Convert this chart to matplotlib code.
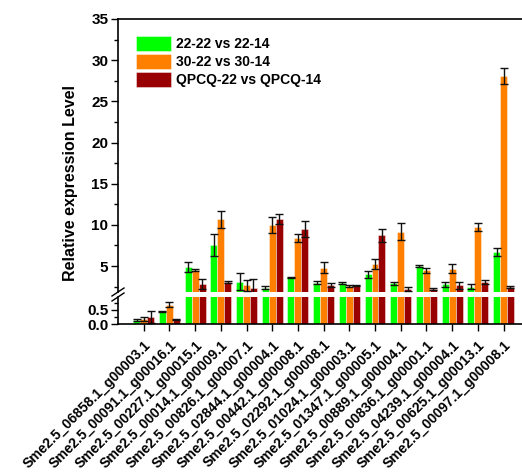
import numpy as np
import matplotlib.pyplot as plt
from matplotlib.ticker import MultipleLocator

plt.rcParams['font.family'] = ['Liberation Sans', 'DejaVu Sans']
plt.rcParams['font.weight'] = 'bold'

genes = ['Sme2.5_06858.1_g00003.1', 'Sme2.5_00091.1_g00016.1', 'Sme2.5_00227.1_g00015.1',
         'Sme2.5_00014.1_g00009.1', 'Sme2.5_00826.1_g00007.1', 'Sme2.5_02844.1_g00004.1',
         'Sme2.5_00442.1_g00008.1', 'Sme2.5_02292.1_g00008.1', 'Sme2.5_01024.1_g00003.1',
         'Sme2.5_01347.1_g00005.1', 'Sme2.5_00889.1_g00004.1', 'Sme2.5_00836.1_g00001.1',
         'Sme2.5_04239.1_g00004.1', 'Sme2.5_00625.1_g00013.1', 'Sme2.5_00097.1_g00008.1']

g22 = [0.15, 0.44, 4.84, 7.55, 3.1, 2.36, 3.62, 3.0, 2.97, 4.0, 2.9, 5.0, 2.78, 2.49, 6.67]
g22_err = [0.03, 0.02, 0.6, 1.3, 1.0, 0.2, 0.1, 0.2, 0.1, 0.4, 0.2, 0.1, 0.3, 0.3, 0.5]
g30 = [0.17, 0.68, 4.5, 10.67, 2.65, 9.98, 8.4, 4.8, 2.6, 5.3, 9.17, 4.5, 4.7, 9.7, 28.1]
g30_err = [0.07, 0.09, 0.1, 1.05, 0.7, 0.95, 0.5, 0.65, 0.15, 0.6, 1.05, 0.3, 0.5, 0.5, 1.0]
qp = [0.24, 0.17, 2.85, 3.06, 2.36, 10.67, 9.53, 2.65, 2.65, 8.73, 2.2, 2.25, 2.65, 3.1, 2.45]
qp_err = [0.22, 0.02, 0.6, 0.1, 1.1, 0.6, 1.0, 0.25, 0.1, 0.8, 0.2, 0.1, 0.4, 0.25, 0.1]

labels = ['22-22 vs 22-14', '30-22 vs 30-14', 'QPCQ-22 vs QPCQ-14']
colors = ['#00ff00', '#ff8000', '#990000']

fig = plt.figure(figsize=(5.22, 4.72), dpi=100)
W, H = 522, 472
left = 118 / W
width = 16 * 25.7 / W   # axis runs past the right edge, as in the original
ax_top = fig.add_axes([left, 1 - 292 / H, width, (292 - 19) / H])
ax_bot = fig.add_axes([left, 1 - 324 / H, width, (324 - 297) / H])

x = np.arange(1, len(genes) + 1)
w = 0.27
series = [(g22, g22_err), (g30, g30_err), (qp, qp_err)]
for ax in (ax_top, ax_bot):
    for i, (vals, errs) in enumerate(series):
        ax.bar(x + (i - 1) * w, vals, w, color=colors[i], edgecolor=(1, 1, 1, 0.5),
               linewidth=0.6, label=labels[i],
               yerr=errs, error_kw=dict(ecolor='#111111', elinewidth=1, capsize=3, capthick=1))
    ax.set_xlim(0, 16)
    ax.spines['right'].set_visible(False)
    ax.tick_params(direction='out', labelsize=11, width=1, length=5, pad=2)
    ax.tick_params(which='minor', direction='out', length=3, width=1)
    for sp in ax.spines.values():
        sp.set_linewidth(1.2)

ax_top.set_ylim(1.85, 35)
ax_top.yaxis.set_minor_locator(MultipleLocator(2.5))
ax_top.spines['bottom'].set_visible(False)
ax_top.tick_params(axis='x', bottom=False, labelbottom=False)
ax_top.set_yticks([5, 10, 15, 20, 25, 30, 35])
ax_top.set_yticklabels(['5', '10', '15', '20', '25', '30', '35'], fontweight='bold')

ax_bot.set_ylim(0, 0.96)
ax_bot.set_yticks([0.0, 0.5])
ax_bot.set_yticklabels(['0.0', '0.5'], fontweight='bold')
ax_bot.yaxis.set_minor_locator(MultipleLocator(0.25))
ax_bot.spines['top'].set_visible(False)
ax_bot.set_xticks(x)
ax_bot.set_xticklabels(genes, rotation=45, ha='right', va='top', rotation_mode='anchor',
                       fontsize=10, fontweight='bold')
ax_bot.tick_params(axis='x', pad=5)
ax_bot.xaxis.set_minor_locator(plt.NullLocator())

# break marks on the left spine
for yb in (292, 297):
    fig.add_artist(plt.Line2D([112 / W, 124 / W], [1 - (yb + 4) / H, 1 - (yb - 4) / H],
                              color='black', lw=1, transform=fig.transFigure))

fig.text(70 / W, 1 - 183 / H, 'Relative expression Level', rotation=90,
         ha='center', va='center', fontsize=11.5, fontweight='bold')

ax_top.legend(loc='upper left', bbox_to_anchor=(136 / W, 1 - 36 / H),
              bbox_transform=fig.transFigure, frameon=False,
              handlelength=2.5, handleheight=1.25, labelspacing=0.22,
              handletextpad=0.35, borderpad=0, borderaxespad=0,
              prop={'weight': 'bold', 'size': 10})

fig.savefig('out.png', dpi=100)
